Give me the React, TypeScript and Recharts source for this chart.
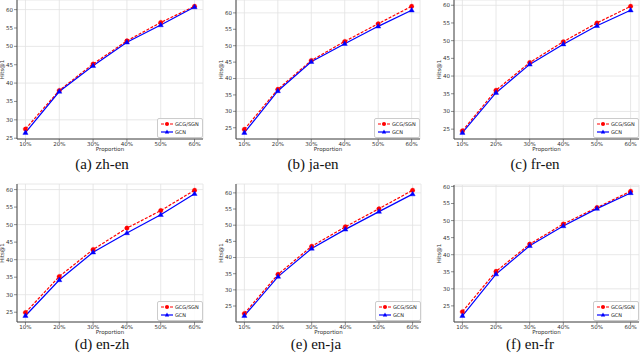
import { LineChart, Line, XAxis, YAxis, CartesianGrid, Legend } from "recharts";

const proportions = ["10%", "20%", "30%", "40%", "50%", "60%"];

// Hits@1 values
const zhEnGcgSgn = [27.5, 38.0, 45.2, 51.5, 56.5, 60.9];
const zhEnGcn = [26.5, 37.7, 44.7, 51.1, 55.8, 60.7];
const jaEnGcgSgn = [24.5, 36.7, 45.5, 51.3, 56.7, 62.0];
const jaEnGcn = [23.5, 36.2, 45.1, 50.6, 55.9, 60.8];
const frEnGcgSgn = [24.5, 36.0, 43.8, 49.7, 55.0, 59.7];
const frEnGcn = [24.0, 35.3, 43.3, 49.0, 54.2, 58.6];
const enZhGcgSgn = [24.9, 35.2, 42.9, 49.0, 54.0, 59.8];
const enZhGcn = [24.0, 34.2, 42.1, 47.6, 52.8, 58.8];
const enJaGcgSgn = [22.7, 34.8, 43.5, 49.5, 55.1, 60.8];
const enJaGcn = [22.0, 34.1, 42.8, 48.7, 54.2, 59.6];
const enFrGcgSgn = [23.3, 35.1, 43.1, 49.0, 53.8, 58.6];
const enFrGcn = [22.1, 34.3, 42.6, 48.4, 53.5, 58.1];

const captions = ["(a) zh-en", "(b) ja-en", "(c) fr-en", "(d) en-zh", "(e) en-ja", "(f) en-fr"];
const seriesNames = ["GCG/SGN", "GCN"];
const yTickCandidates = [20, 25, 30, 35, 40, 45, 50, 55, 60, 65];

const panelSeries = [
  [zhEnGcgSgn, zhEnGcn],
  [jaEnGcgSgn, jaEnGcn],
  [frEnGcgSgn, frEnGcn],
  [enZhGcgSgn, enZhGcn],
  [enJaGcgSgn, enJaGcn],
  [enFrGcgSgn, enFrGcn],
];

// frame box of each subplot (page px) and caption centre
const layout = [
  { x: 17, y: 0, w: 186, h: 139, cx: 102, cy: 164 },
  { x: 236, y: 0, w: 184, h: 139, cx: 313, cy: 164 },
  { x: 454, y: 0, w: 185, h: 139, cx: 535, cy: 164 },
  { x: 17, y: 184, w: 186, h: 138, cx: 102, cy: 343.5 },
  { x: 236, y: 184, w: 185, h: 138, cx: 316, cy: 343.5 },
  { x: 454, y: 185, w: 185, h: 137, cx: 530, cy: 343.5 },
];

const RED = "#ff0000";
const BLUE = "#0000ff";
const FRAME = "#444";
const GRID = "#e2e2e2";
const tickFont = { fontSize: 5.5, fill: "#333", fontFamily: "DejaVu Sans" };

function Triangle(props: any) {
  const { cx, cy } = props;
  if (cx == null || cy == null) return null;
  return (
    <polygon
      key={`t-${cx}-${cy}`}
      points={`${cx},${cy - 2.9} ${cx - 2.6},${cy + 1.7} ${cx + 2.6},${cy + 1.7}`}
      fill={BLUE}
      stroke={BLUE}
      strokeWidth={0.4}
    />
  );
}

function LegendBox({ payload }: any) {
  const items = payload || [];
  return (
    <div
      style={{
        border: "1px solid #ccc",
        borderRadius: 2,
        background: "rgba(255,255,255,0.85)",
        padding: "1px 3px",
        fontFamily: "DejaVu Sans",
        fontSize: 5,
        color: "#222",
        lineHeight: "8px",
      }}
    >
      {items.map((entry: any) => (
        <div key={entry.value} style={{ display: "flex", alignItems: "center" }}>
          <svg width={12} height={8} style={{ display: "block" }}>
            <line
              x1={0}
              y1={4}
              x2={12}
              y2={4}
              stroke={entry.color}
              strokeWidth={1.2}
              strokeDasharray={entry.dataKey === "gcgSgn" ? "3 1.5" : undefined}
            />
            {entry.dataKey === "gcgSgn" ? (
              <circle cx={6} cy={4} r={2} fill={RED} />
            ) : (
              <polygon points="6,1.5 3.8,5.5 8.2,5.5" fill={BLUE} />
            )}
          </svg>
          <span style={{ marginLeft: 2 }}>{entry.value}</span>
        </div>
      ))}
    </div>
  );
}

function Panel({ index }: { index: number }) {
  const [gcgSgn, gcn] = panelSeries[index];
  const box = layout[index];
  const rows = proportions.map((p, i) => ({ p, gcgSgn: gcgSgn[i], gcn: gcn[i] }));
  const all = [...gcgSgn, ...gcn];
  const lo = Math.min(...all);
  const hi = Math.max(...all);
  const span = hi - lo;
  const domain = [lo - 0.05 * span, hi + 0.05 * span];
  const ticks = yTickCandidates.filter((t) => t >= domain[0] && t <= domain[1]);
  const pad = box.w / 22;
  const yw = 19;
  const mt = 1;
  const xh = 14;

  const yLabel = (props: any) => {
    const vb = props.viewBox || {};
    const lx = vb.x + 3.5;
    const ly = vb.y + vb.height / 2;
    return (
      <text
        x={lx}
        y={ly}
        transform={`rotate(-90, ${lx}, ${ly})`}
        textAnchor="middle"
        dominantBaseline="central"
        style={{ fontSize: 5.5, fontFamily: "DejaVu Sans", fill: "#333" }}
      >
        Hits@1
      </text>
    );
  };

  const xLabel = (props: any) => {
    const vb = props.viewBox || {};
    return (
      <text
        x={vb.x + vb.width / 2}
        y={vb.y + 10}
        textAnchor="middle"
        dominantBaseline="central"
        style={{ fontSize: 5.5, fontFamily: "DejaVu Sans", fill: "#333" }}
      >
        Proportion
      </text>
    );
  };

  return (
    <div style={{ position: "absolute", left: box.x - yw, top: box.y - mt }}>
      <LineChart
        width={yw + box.w + 1}
        height={mt + box.h + xh}
        data={rows}
        margin={{ top: mt, right: 1, left: 0, bottom: 0 }}
      >
        <CartesianGrid stroke={GRID} strokeWidth={0.8} />
        <XAxis
          dataKey="p"
          height={xh}
          padding={{ left: pad, right: pad }}
          tick={tickFont}
          tickSize={3}
          tickMargin={0}
          tickLine={{ stroke: FRAME, strokeWidth: 0.6 }}
          axisLine={{ stroke: FRAME, strokeWidth: 1 }}
          interval={0}
          label={xLabel}
        />
        <XAxis
          xAxisId="top"
          dataKey="p"
          orientation="top"
          height={0}
          tick={false}
          tickLine={false}
          axisLine={{ stroke: FRAME, strokeWidth: 1 }}
        />
        <YAxis
          type="number"
          domain={domain}
          ticks={ticks}
          width={yw}
          tick={tickFont}
          tickSize={3}
          tickMargin={1}
          tickLine={{ stroke: FRAME, strokeWidth: 0.6 }}
          axisLine={{ stroke: FRAME, strokeWidth: 1 }}
          label={yLabel}
        />
        <YAxis
          yAxisId="right"
          orientation="right"
          width={0}
          tick={false}
          tickLine={false}
          axisLine={{ stroke: FRAME, strokeWidth: 1 }}
        />
        <Line
          dataKey="gcgSgn"
          name={seriesNames[0]}
          stroke={RED}
          strokeWidth={1.2}
          strokeDasharray="3 1.5"
          dot={{ r: 2.3, fill: RED, stroke: RED, strokeWidth: 0.3 }}
          isAnimationActive={false}
        />
        <Line
          dataKey="gcn"
          name={seriesNames[1]}
          stroke={BLUE}
          strokeWidth={1.2}
          dot={Triangle}
          isAnimationActive={false}
        />
        <Legend
          layout="horizontal"
          verticalAlign="middle"
          align="center"
          content={LegendBox}
          wrapperStyle={{ left: yw + box.w - 46, top: mt + box.h - 21, width: "auto", height: "auto" }}
        />
      </LineChart>
    </div>
  );
}

export default function App() {
  return (
    <div
      style={{
        position: "absolute",
        left: 0,
        top: 0,
        width: 640,
        height: 353,
        background: "#fff",
        overflow: "hidden",
      }}
    >
      {layout.map((box, i) => (
        <Panel key={captions[i]} index={i} />
      ))}
      {layout.map((box, i) => (
        <div
          key={`cap-${i}`}
          style={{
            position: "absolute",
            left: box.cx - 60,
            top: box.cy - 6,
            width: 120,
            textAlign: "center",
            fontFamily: "Liberation Serif",
            fontSize: 15,
            lineHeight: "12px",
            color: "#111",
          }}
        >
          {captions[i]}
        </div>
      ))}
    </div>
  );
}
